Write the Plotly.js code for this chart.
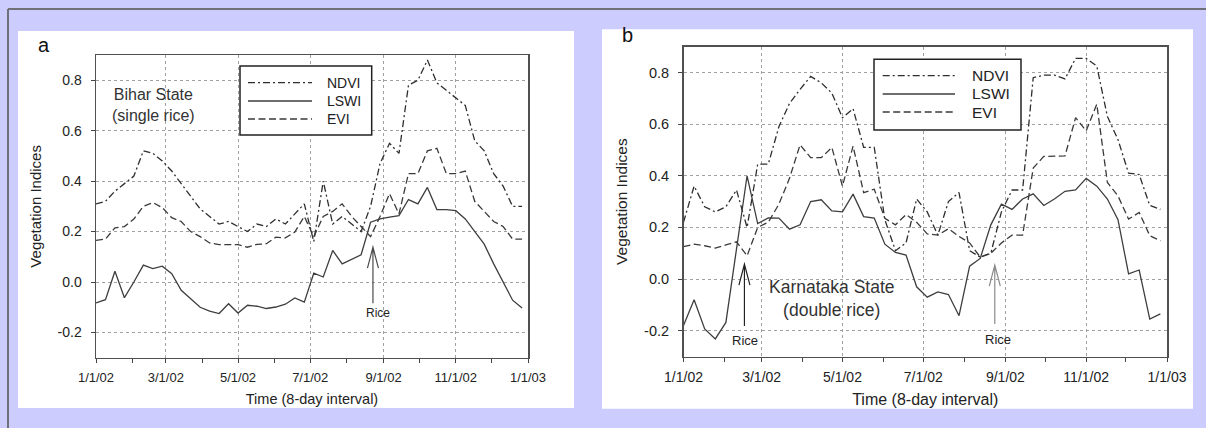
<!DOCTYPE html>
<html>
<head>
<meta charset="utf-8">
<script src="https://cdn.plot.ly/plotly-3.0.1.min.js"></script>
<style>
html,body{margin:0;padding:0;background:#ccccff;}
#chart{width:1206px;height:428px;}
</style>
</head>
<body>
<div id="chart"></div>
<script>
// ---- DATA ----
const dates = ['2002-01-01','2002-01-09','2002-01-17','2002-01-25','2002-02-02','2002-02-10','2002-02-18','2002-02-26',
  '2002-03-06','2002-03-14','2002-03-22','2002-03-30','2002-04-07','2002-04-15','2002-04-23','2002-05-01',
  '2002-05-09','2002-05-17','2002-05-25','2002-06-02','2002-06-10','2002-06-18','2002-06-26','2002-07-04',
  '2002-07-12','2002-07-20','2002-07-28','2002-08-05','2002-08-13','2002-08-21','2002-08-29','2002-09-06',
  '2002-09-14','2002-09-22','2002-09-30','2002-10-08','2002-10-16','2002-10-24','2002-11-01','2002-11-09',
  '2002-11-17','2002-11-25','2002-12-03','2002-12-11','2002-12-19','2002-12-27'];

const biharNDVI = [0.31,0.32,0.36,0.39,0.42,0.52,0.51,0.48,0.44,0.39,0.34,0.29,0.26,0.23,0.24,0.22,
  0.20,0.23,0.22,0.25,0.23,0.27,0.31,0.16,0.40,0.23,0.26,0.23,0.20,0.30,0.47,0.55,
  0.51,0.78,0.80,0.88,0.79,0.76,0.73,0.70,0.56,0.52,0.43,0.38,0.30,0.30];
const biharLSWI = [-0.083,-0.07,0.043,-0.062,0.0,0.067,0.053,0.063,0.033,-0.033,-0.066,-0.10,-0.115,-0.125,-0.086,-0.123,
  -0.092,-0.096,-0.105,-0.099,-0.088,-0.063,-0.08,0.035,0.02,0.125,0.072,0.09,0.108,0.237,0.25,0.257,
  0.263,0.327,0.31,0.375,0.287,0.287,0.283,0.25,0.198,0.15,0.072,0.0,-0.072,-0.103];
const biharEVI = [0.165,0.17,0.215,0.22,0.25,0.30,0.315,0.295,0.255,0.24,0.20,0.18,0.155,0.148,0.148,0.148,
  0.138,0.149,0.152,0.178,0.175,0.198,0.26,0.18,0.26,0.28,0.31,0.26,0.22,0.18,0.26,0.35,
  0.27,0.43,0.43,0.52,0.53,0.43,0.43,0.44,0.32,0.28,0.24,0.22,0.17,0.17];

const karnNDVI = [0.22,0.36,0.28,0.26,0.28,0.345,0.20,0.445,0.445,0.59,0.68,0.735,0.785,0.76,0.72,0.625,
  0.66,0.51,0.51,0.23,0.11,0.14,0.31,0.26,0.17,0.30,0.335,0.11,0.085,0.10,0.26,0.345,
  0.345,0.78,0.79,0.79,0.775,0.855,0.855,0.825,0.63,0.54,0.41,0.405,0.285,0.27];
const karnLSWI = [-0.18,-0.08,-0.193,-0.232,-0.168,0.12,0.40,0.215,0.237,0.236,0.193,0.21,0.30,0.307,0.264,0.26,
  0.329,0.242,0.236,0.135,0.103,0.093,-0.03,-0.07,-0.05,-0.06,-0.142,0.05,0.08,0.21,0.29,0.27,
  0.31,0.33,0.285,0.31,0.34,0.345,0.39,0.36,0.31,0.23,0.02,0.035,-0.155,-0.135];
const karnEVI = [0.126,0.135,0.129,0.12,0.132,0.144,0.09,0.20,0.22,0.29,0.39,0.52,0.47,0.47,0.51,0.36,
  0.515,0.335,0.348,0.235,0.21,0.25,0.22,0.175,0.17,0.195,0.165,0.14,0.085,0.10,0.14,0.17,
  0.17,0.43,0.475,0.477,0.477,0.625,0.574,0.677,0.374,0.322,0.232,0.258,0.168,0.148];

const seriesNames = ['NDVI','LSWI','EVI'];
const xTickVals = ['2002-01-01','2002-03-01','2002-05-01','2002-07-01','2002-09-01','2002-11-01','2003-01-01'];
const xTickText = ['1/1/02','3/1/02','5/1/02','7/1/02','9/1/02','11/1/02','1/1/03'];
const yTickVals = [-0.2,0.0,0.2,0.4,0.6,0.8];
const yTickText = ['-0.2','0.0','0.2','0.4','0.6','0.8'];
const xRange = ['2002-01-01','2003-01-01'];
const yRange = [-0.3,0.9];
const panelLabels = ['a','b'];
const stateLabelA = 'Bihar State<br>(single rice)';
const stateLabelB = 'Karnataka State<br>(double rice)';
const riceText = 'Rice';
const riceDatesA = ['2002-08-23'];
const riceValsA = [0.138];
const riceDatesB = ['2002-02-16','2002-08-24'];
const riceValsB = [0.058,0.054];
const xTitle = 'Time (8-day interval)';
const yTitle = 'Vegetation Indices';

// ---- STYLE ----
const W = 1206, H = 428;
const FONT = 'Arial, "Liberation Sans", sans-serif';
const px = v => v / W;
const py = v => 1 - v / H;
const dashes = {NDVI: '7px,3px,2px,3px', LSWI: 'solid', EVI: '7px,3.5px'};
const shapeDashes = {NDVI: '7px,3px,2px,3px', LSWI: 'solid', EVI: '7px,3.5px'};
const lineColors = {NDVI: '#2e2e2e', LSWI: '#3e3e3e', EVI: '#3a3a3a'};

function makeTraces(vals, xa, ya) {
  return seriesNames.map((n, i) => ({
    type: 'scatter', mode: 'lines', name: n, showlegend: false,
    x: dates, y: vals[i], xaxis: xa, yaxis: ya,
    line: {color: lineColors[n], width: 1.3, dash: dashes[n]}
  }));
}

const traces = [
  ...makeTraces([biharNDVI, biharLSWI, biharEVI], 'x', 'y'),
  ...makeTraces([karnNDVI, karnLSWI, karnEVI], 'x2', 'y2')
];

function xAxis(domain, anchor, fs, titleFs, standoff) {
  return {
    domain: domain, anchor: anchor, type: 'date', range: xRange,
    tickmode: 'array', tickvals: xTickVals, ticktext: xTickText,
    ticks: 'outside', ticklen: 4, tickcolor: '#444', tickwidth: 1,
    ticklabelstandoff: 3,
    minor: {dtick: 'M1', tick0: '2002-01-01', ticks: 'outside', ticklen: 4, tickcolor: '#444', showgrid: false},
    showgrid: true, gridcolor: '#a0a0a0', griddash: 'dot', gridwidth: 1,
    showline: true, mirror: true, linecolor: '#505050', linewidth: 1.5,
    zeroline: false, tickfont: {family: FONT, size: fs, color: '#222'},
    title: {text: xTitle, font: {family: FONT, size: titleFs, color: '#222'}, standoff: standoff},
    automargin: false, fixedrange: true
  };
}
function yAxis(domain, anchor, fs, titleFs, standoff) {
  return {
    domain: domain, anchor: anchor, range: yRange,
    tickmode: 'array', tickvals: yTickVals, ticktext: yTickText,
    ticks: 'outside', ticklen: 4, tickcolor: '#444',
    ticklabelstandoff: 6,
    showgrid: true, gridcolor: '#a0a0a0', griddash: 'dot', gridwidth: 1,
    showline: true, mirror: true, linecolor: '#505050', linewidth: 1.5,
    zeroline: false, tickfont: {family: FONT, size: fs, color: '#222'},
    title: {text: yTitle, font: {family: FONT, size: titleFs, color: '#222'}, standoff: standoff},
    automargin: false, fixedrange: true
  };
}

function arrowShape(xref, yref, date, val, len, color) {
  return {
    type: 'path', xref: xref, yref: yref, xsizemode: 'pixel', ysizemode: 'pixel',
    xanchor: date, yanchor: val,
    path: 'M0,0L0,-' + len + 'M-5.5,-21L0,0L5.5,-21',
    line: {color: color, width: 1.2}
  };
}

// legend box drawn in page pixels
function legendParts(box, lineX0, lineX1, rowsY, textX, fs) {
  const s = [{type: 'rect', xref: 'paper', yref: 'paper', x0: px(box[0]), x1: px(box[1]),
    y0: py(box[3]), y1: py(box[2]), fillcolor: 'white', line: {color: '#222', width: 1.5}}];
  const a = [];
  seriesNames.forEach((n, i) => {
    s.push({type: 'line', xref: 'paper', yref: 'paper', x0: px(lineX0), x1: px(lineX1),
      y0: py(rowsY[i]), y1: py(rowsY[i]), line: {color: lineColors[n], width: 1.3, dash: shapeDashes[n]}});
    a.push({xref: 'paper', yref: 'paper', x: px(textX), y: py(rowsY[i]), text: n, showarrow: false,
      xanchor: 'left', yanchor: 'middle', font: {family: FONT, size: fs, color: '#222'}});
  });
  return {s, a};
}
const legA = legendParts([240, 371.7, 66, 135], 248, 312, [82.7, 101, 119], 325, 14);
const legB = legendParts([874, 1021, 59.3, 130], 882.7, 955, [75.7, 94, 112], 970, 15.5);

const shapes = [
  {type: 'rect', xref: 'paper', yref: 'paper', x0: px(18), x1: px(574), y0: py(408), y1: py(31),
   fillcolor: 'white', line: {width: 0}, layer: 'below'},
  {type: 'rect', xref: 'paper', yref: 'paper', x0: px(602), x1: px(1193), y0: py(408.7), y1: py(29.3),
   fillcolor: 'white', line: {width: 0}, layer: 'below'},
  {type: 'line', xref: 'paper', yref: 'paper', x0: px(8), x1: 1, y0: py(9), y1: py(9),
   line: {color: '#707078', width: 2}},
  {type: 'line', xref: 'paper', yref: 'paper', x0: px(8), x1: px(8), y0: py(9), y1: 0,
   line: {color: '#707078', width: 2}},
  arrowShape('x', 'y', riceDatesA[0], riceValsA[0], 56, '#4a4a4a'),
  arrowShape('x2', 'y2', riceDatesB[0], riceValsB[0], 62, '#222'),
  arrowShape('x2', 'y2', riceDatesB[1], riceValsB[1], 59, '#8a8a8a'),
  ...legA.s, ...legB.s
];

const annotations = [
  {xref: 'paper', yref: 'paper', x: px(44), y: py(45), text: panelLabels[0], showarrow: false,
   xanchor: 'center', yanchor: 'middle', font: {family: FONT, size: 20, color: '#111'}},
  {xref: 'paper', yref: 'paper', x: px(627), y: py(35), text: panelLabels[1], showarrow: false,
   xanchor: 'center', yanchor: 'middle', font: {family: FONT, size: 20, color: '#111'}},
  {xref: 'x', yref: 'y', x: '2002-02-19', y: 0.70, text: stateLabelA, showarrow: false,
   xanchor: 'center', yanchor: 'middle', align: 'center', font: {family: FONT, size: 16, color: '#333'}},
  {xref: 'x2', yref: 'y2', x: '2002-04-23', y: -0.076, text: stateLabelB, showarrow: false,
   xanchor: 'center', yanchor: 'middle', align: 'center', font: {family: FONT, size: 17.5, color: '#333'}},
  {xref: 'x', yref: 'y', x: riceDatesA[0], y: riceValsA[0], text: riceText, showarrow: false,
   xshift: 5.5, yshift: -66, font: {family: FONT, size: 12, color: '#222'}},
  {xref: 'x2', yref: 'y2', x: riceDatesB[0], y: riceValsB[0], text: riceText, showarrow: false,
   xshift: 1, yshift: -76, font: {family: FONT, size: 13, color: '#222'}},
  {xref: 'x2', yref: 'y2', x: riceDatesB[1], y: riceValsB[1], text: riceText, showarrow: false,
   xshift: 3, yshift: -74, font: {family: FONT, size: 13, color: '#222'}},
  ...legA.a, ...legB.a
];

const layout = {
  width: W, height: H,
  margin: {l: 0, r: 0, t: 0, b: 0},
  paper_bgcolor: '#ccccff', plot_bgcolor: 'white',
  showlegend: false,
  xaxis: xAxis([px(96), px(528)], 'y', 13, 14.5, 10),
  yaxis: yAxis([py(357.7), py(55)], 'x', 14, 15, 12),
  xaxis2: xAxis([px(683.5), px(1167)], 'y2', 14, 16, 10),
  yaxis2: yAxis([py(356.5), py(46.7)], 'x2', 14.5, 15.5, 12),
  shapes: shapes,
  annotations: annotations
};

Plotly.newPlot('chart', traces, layout, {staticPlot: true, displayModeBar: false});
</script>
</body>
</html>
